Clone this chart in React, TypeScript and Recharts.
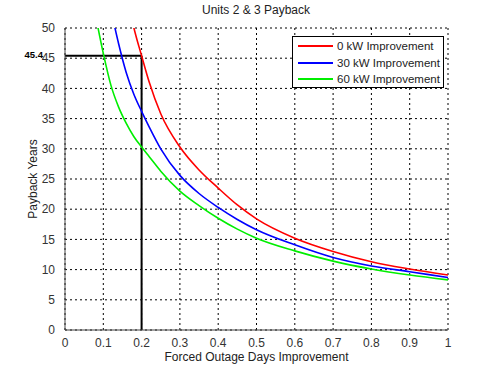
import {
  LineChart,
  Line,
  XAxis,
  YAxis,
  CartesianGrid,
  ReferenceLine,
} from 'recharts';

// Forced outage days improvement (x) sample points
const outageDays = [0.08, 0.1, 0.12, 0.14, 0.16, 0.18, 0.2, 0.22, 0.25, 0.3, 0.35, 0.4, 0.45, 0.5, 0.6, 0.7, 0.8, 0.9, 1.0];

// Payback years per series (null = off the top of the chart)
const kw0 = [null, null, null, null, 56, 50, 45.4, 41.0, 35.8, 30.3, 26.5, 23.5, 20.7, 18.4, 15.2, 13.0, 11.3, 10.1, 9.1];
const kw30 = [null, null, 53, 47.4, 42.6, 39.0, 36.2, 33.6, 30.0, 25.6, 22.6, 20.3, 18.3, 16.6, 14.1, 12.0, 10.6, 9.65, 8.7];
const kw60 = [52, 45.8, 40.5, 36.9, 34.2, 32.0, 30.3, 28.7, 26.3, 23.0, 20.6, 18.5, 16.7, 15.2, 13.1, 11.4, 10.1, 9.1, 8.3];

const xTicks = [0, 0.1, 0.2, 0.3, 0.4, 0.5, 0.6, 0.7, 0.8, 0.9, 1];
const yTicks = [0, 5, 10, 15, 20, 25, 30, 35, 40, 45, 50];

const markX = 0.2;
const markY = 45.4;

const seriesInfo = [
  { key: 'kw0', name: '0 kW Improvement', color: '#ff0000' },
  { key: 'kw30', name: '30 kW Improvement', color: '#0000ff' },
  { key: 'kw60', name: '60 kW Improvement', color: '#00ee00' },
];

const data = outageDays.map((x, i) => ({ x, kw0: kw0[i], kw30: kw30[i], kw60: kw60[i] }));

const FONT = 'Arial, "Liberation Sans", sans-serif';

function LegendBox() {
  return (
    <div
      style={{
        position: 'absolute',
        left: 292,
        top: 36,
        width: 152,
        height: 52,
        border: '1px solid #000',
        background: '#fff',
        fontFamily: FONT,
        fontSize: 11.5,
        paddingTop: 1,
        boxSizing: 'border-box',
        whiteSpace: 'nowrap',
      }}
    >
      {seriesInfo.map((s) => (
        <div key={s.key} style={{ display: 'flex', alignItems: 'center', height: 16.5 }}>
          <div style={{ width: 35, height: 2, background: s.color, marginLeft: 5, marginRight: 4 }} />
          <span style={{ color: '#222' }}>{s.name}</span>
        </div>
      ))}
    </div>
  );
}

// bold value label left of the y tick labels
function MarkLabel({ viewBox }: { viewBox?: { x: number; y: number } }) {
  if (!viewBox) return null;
  return (
    <text x={viewBox.x - 22} y={viewBox.y + 2} textAnchor="end" fontFamily={FONT} fontSize={9.5} fontWeight="bold" fill="#000">
      {markY}
    </text>
  );
}

export default function App() {
  return (
    <div style={{ position: 'absolute', left: 0, top: 0, width: 495, height: 371, background: '#fff' }}>
      <div
        style={{
          position: 'absolute',
          top: 3,
          left: 64,
          width: 384,
          textAlign: 'center',
          fontFamily: FONT,
          fontSize: 12,
          color: '#222',
        }}
      >
        Units 2 &amp; 3 Payback
      </div>
      <LineChart width={495} height={371} data={data} margin={{ top: 28, right: 47, bottom: 0, left: 0 }}>
        <CartesianGrid stroke="#000" strokeDasharray="2 3" strokeWidth={1} />
        <XAxis
          dataKey="x"
          type="number"
          domain={[0, 1]}
          ticks={xTicks}
          height={41}
          tickLine={false}
          axisLine={{ stroke: '#444' }}
          tick={{ fill: '#333', fontSize: 12, fontFamily: FONT }}
          tickMargin={2}
          label={{ value: 'Forced Outage Days Improvement', position: 'insideBottom', offset: 10, fill: '#222', fontSize: 12, fontFamily: FONT }}
        />
        <YAxis
          type="number"
          domain={[0, 50]}
          ticks={yTicks}
          allowDataOverflow
          width={65}
          tickLine={false}
          axisLine={{ stroke: '#444' }}
          tick={{ fill: '#333', fontSize: 12, fontFamily: FONT }}
          tickMargin={4}
          label={{ value: 'Payback Years', angle: -90, position: 'insideLeft', offset: 33, fill: '#222', fontSize: 12, fontFamily: FONT, style: { textAnchor: 'middle' } }}
        />
        <ReferenceLine
          segment={[{ x: 0, y: markY }, { x: markX, y: markY }]}
          stroke="#000"
          strokeWidth={2}
          label={<MarkLabel />}
          ifOverflow="visible"
        />
        <ReferenceLine segment={[{ x: markX, y: 0 }, { x: markX, y: markY }]} stroke="#000" strokeWidth={2} />
        {seriesInfo.map((s) => (
          <Line
            key={s.key}
            type="monotone"
            dataKey={s.key}
            name={s.name}
            stroke={s.color}
            strokeWidth={1.6}
            dot={false}
            isAnimationActive={false}
          />
        ))}
      </LineChart>
      <LegendBox />
    </div>
  );
}
